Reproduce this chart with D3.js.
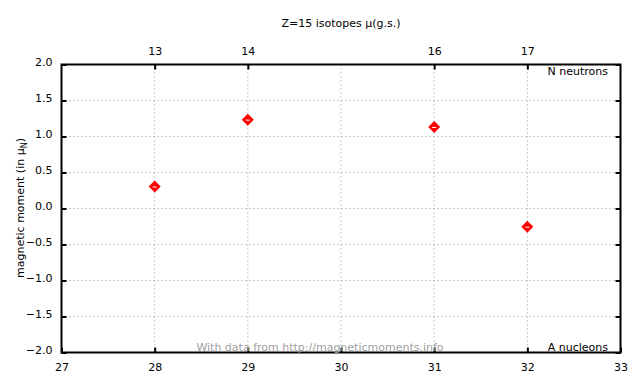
<!DOCTYPE html>
<html>
<head>
<meta charset="utf-8">
<script src="https://cdn.jsdelivr.net/npm/d3@7"></script>
<style>
  body { margin: 0; background: #fff; }
  svg text { font-family: "DejaVu Sans", sans-serif; font-size: 11px; fill: #000; }
</style>
</head>
<body>
<svg id="chart" width="640" height="384"></svg>
<script>
// isotope data, Z=15
const massNumbers = [28, 29, 31, 32];
const neutronNumbers = [13, 14, 16, 17];
const moments = [0.305, 1.234, 1.1316, -0.2524];
const yTicks = [-2.0, -1.5, -1.0, -0.5, 0.0, 0.5, 1.0, 1.5, 2.0];
const xTicks = [27, 28, 29, 30, 31, 32, 33];

const svg = d3.select("#chart");
const pLeft = 61.5, pRight = 620.5, pTop = 64.5, pBottom = 352.5;

const x = d3.scaleLinear().domain([27, 33]).range([pLeft, pRight]);
const y = d3.scaleLinear().domain([-2, 2]).range([pBottom, pTop]);

// grid
const grid = svg.append("g").attr("stroke", "#999").attr("stroke-dasharray", "1,3").attr("stroke-width", 1);
xTicks.slice(1, -1).forEach(v => {
    grid.append("line").attr("x1", x(v)).attr("x2", x(v)).attr("y1", pTop).attr("y2", pBottom);
});
yTicks.slice(1, -1).forEach(v => {
    grid.append("line").attr("x1", pLeft).attr("x2", pRight).attr("y1", y(v)).attr("y2", y(v));
});

// axes
const axB = svg.append("g").attr("transform", `translate(0,${pBottom})`)
    .call(d3.axisBottom(x).tickValues(xTicks).tickFormat(d3.format("d")).tickSizeInner(-5).tickSizeOuter(0).tickPadding(10));
const axL = svg.append("g").attr("transform", `translate(${pLeft},0)`)
    .call(d3.axisLeft(y).tickValues(yTicks).tickFormat(d3.format(".1f")).tickSizeInner(-5).tickSizeOuter(0).tickPadding(7));
const axR = svg.append("g").attr("transform", `translate(${pRight},0)`)
    .call(d3.axisRight(y).tickValues(yTicks).tickFormat("").tickSizeInner(-5).tickSizeOuter(0));
const axT = svg.append("g").attr("transform", `translate(0,${pTop})`)
    .call(d3.axisTop(x).tickValues(massNumbers).tickFormat((d, i) => neutronNumbers[i]).tickSizeInner(-5).tickSizeOuter(0).tickPadding(10));
[axB, axL, axR, axT].forEach(a => {
    a.select(".domain").remove();
    a.selectAll(".tick line").attr("stroke", "#000").attr("stroke-width", 2);
    a.selectAll("text").attr("font-family", "DejaVu Sans").attr("font-size", 11).attr("fill", "#000");
});
axL.selectAll(".tick text").attr("x", -9).attr("dy", "0.1em");
axB.selectAll(".tick text").attr("dy", "0.75em");

// frame
svg.append("rect").attr("x", pLeft).attr("y", pTop).attr("width", pRight - pLeft).attr("height", pBottom - pTop)
    .attr("fill", "none").attr("stroke", "#000").attr("stroke-width", 2);

// labels
svg.append("text").attr("x", 341).attr("y", 27).attr("text-anchor", "middle").text("Z=15 isotopes μ(g.s.)");
svg.append("text").attr("x", 608).attr("y", 75).attr("text-anchor", "end").text("N neutrons");
svg.append("text").attr("x", 608).attr("y", 351).attr("text-anchor", "end").text("A nucleons");
svg.append("text").attr("x", 320).attr("y", 351).attr("text-anchor", "middle")
    .style("fill", "#a0a0a0").attr("font-size", 12).text("With data from http://magneticmoments.info");

const yl = svg.append("text").attr("transform", "translate(24,208) rotate(-90)").attr("text-anchor", "middle");
yl.append("tspan").text("magnetic moment (in μ");
yl.append("tspan").attr("font-size", 8).attr("dy", 3).text("N");
yl.append("tspan").attr("dy", -3).text(")");

// points
const pts = svg.append("g");
massNumbers.forEach((a, i) => {
    const px = x(a), py = y(moments[i]);
    pts.append("path").attr("d", "M0,-6L6,0L0,6L-6,0Z")
        .attr("transform", `translate(${px},${py})`)
        .attr("fill", "red");
    pts.append("line").attr("x1", px - 2).attr("x2", px + 2).attr("y1", py + 0.5).attr("y2", py + 0.5)
        .attr("stroke", "#fff").attr("stroke-width", 1);
});
</script>
</body>
</html>
